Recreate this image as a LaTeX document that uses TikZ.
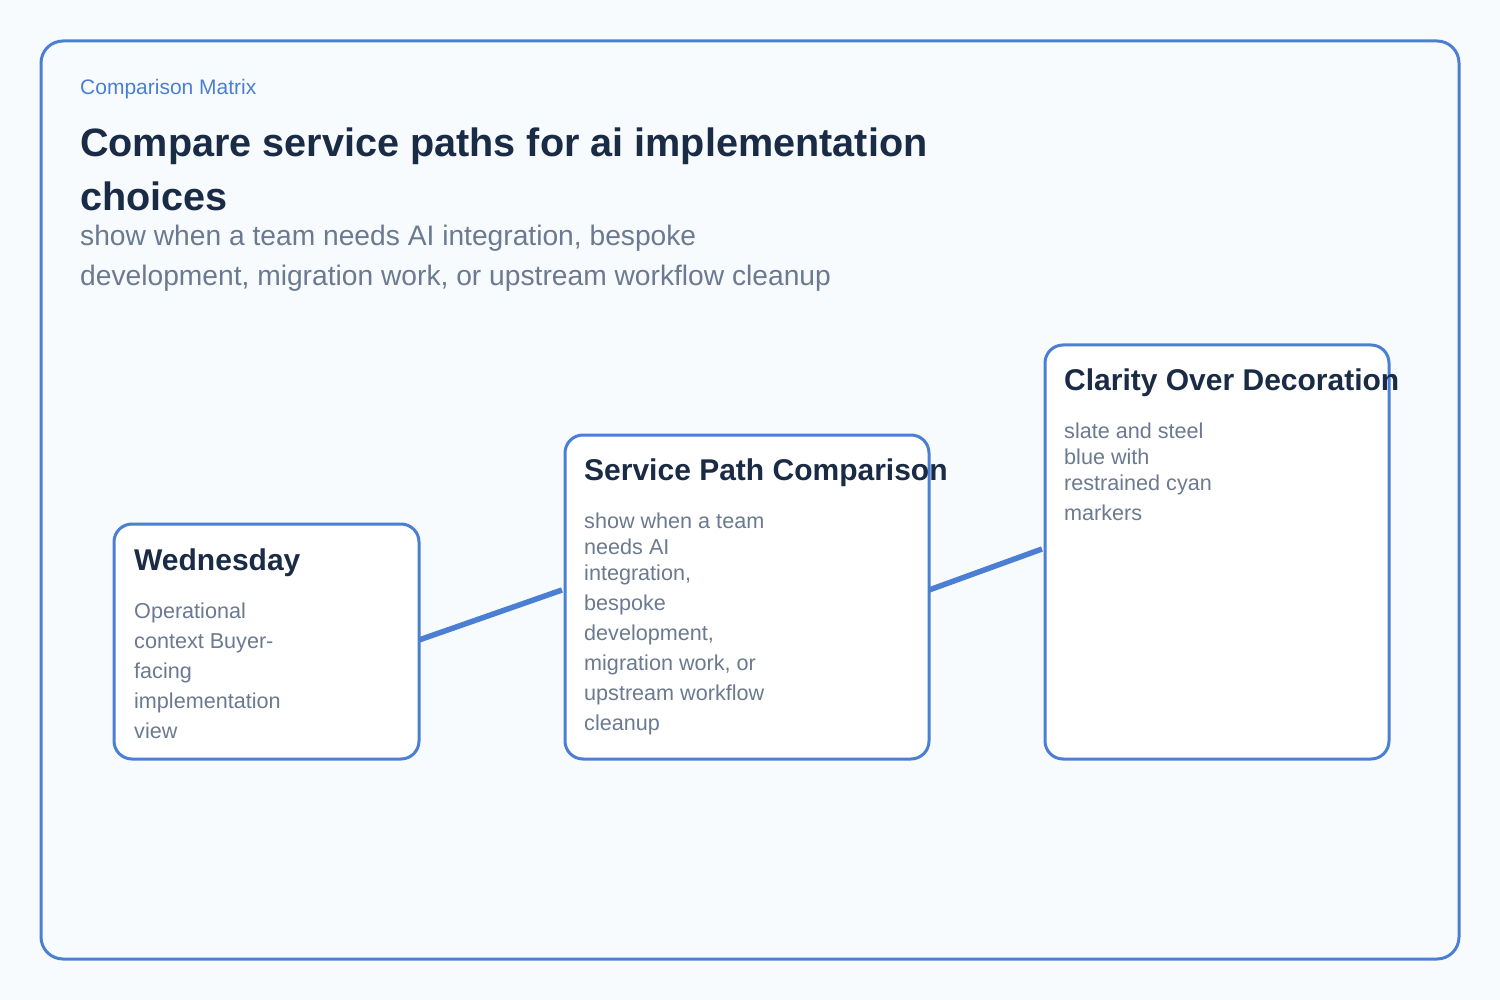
\documentclass[tikz,border=0pt]{standalone}
\usepackage{fontspec}
\setmainfont{Liberation Sans}
\definecolor{frame}{HTML}{4A7FD4}
\definecolor{bg}{HTML}{F8FBFE}
\definecolor{ink}{HTML}{1A2B45}
\definecolor{muted}{HTML}{6B7A90}
\begin{document}
\begin{tikzpicture}[x=1pt,y=-1pt,
  box/.style={draw=frame,line width=3pt,rounded corners=18pt,fill=white,inner sep=0,anchor=north west},
  ttl/.style={font=\bfseries\fontsize{30}{34}\selectfont,text=ink,anchor=base west,inner sep=0},
  bdy/.style={font=\fontsize{21.6}{26}\selectfont,text=muted,anchor=base west,inner sep=0},
  link/.style={draw=frame,line width=5.5pt}]
\useasboundingbox (0,0) rectangle (1500,1000);
\fill[bg] (0,0) rectangle (1500,1000);
\draw[frame,line width=3pt,rounded corners=22pt,fill=bg] (41,41) rectangle (1459,959);
\node[anchor=base west,inner sep=0,text=frame,font=\fontsize{21}{24}\selectfont] (hdr) at (80,95) {Comparison Matrix};
\node[anchor=base west,inner sep=0,text=ink,font=\bfseries\fontsize{39.6}{44}\selectfont] (t1) at (80,157) {Compare service paths for ai implementation};
\node[anchor=base west,inner sep=0,text=ink,font=\bfseries\fontsize{39.6}{44}\selectfont] (t2) at (80,211) {choices};
\node[anchor=base west,inner sep=0,text=muted,font=\fontsize{28.2}{32}\selectfont] (s1) at (80,246) {show when a team needs AI integration, bespoke};
\node[anchor=base west,inner sep=0,text=muted,font=\fontsize{28.2}{32}\selectfont] (s2) at (80,286) {development, migration work, or upstream workflow cleanup};
% boxes
\node[box,minimum width=305pt,minimum height=235pt] (wed) at (112.5,522.5) {};
\node[box,minimum width=364pt,minimum height=324pt] (svc) at (563.5,433.5) {};
\node[box,minimum width=344pt,minimum height=414pt] (cla) at (1043.5,343.5) {};
\coordinate (a1) at (419,640); \coordinate (a2) at (562,590);
\coordinate (b1) at (929,590); \coordinate (b2) at (1042,549);
\draw[link] (a1) -- (a2);
\draw[link] (b1) -- (b2);
% Wednesday
\node[ttl] (wt) at (134,570) {Wednesday};
\node[bdy] (w1) at (134,618) {Operational};
\node[bdy] (w2) at (134,648) {context Buyer-};
\node[bdy] (w3) at (134,678) {facing};
\node[bdy] (w4) at (134,708) {implementation};
\node[bdy] (w5) at (134,738) {view};
% Service
\node[ttl] (st) at (584,480) {Service Path Comparison};
\node[bdy] (v1) at (584,528) {show when a team};
\node[bdy] (v2) at (584,554) {needs AI};
\node[bdy] (v3) at (584,580) {integration,};
\node[bdy] (v4) at (584,610) {bespoke};
\node[bdy] (v5) at (584,640) {development,};
\node[bdy] (v6) at (584,670) {migration work, or};
\node[bdy] (v7) at (584,700) {upstream workflow};
\node[bdy] (v8) at (584,730) {cleanup};
% Clarity
\node[ttl] (ct) at (1064,390) {Clarity Over Decoration};
\node[bdy] (c1) at (1064,438) {slate and steel};
\node[bdy] (c2) at (1064,464) {blue with};
\node[bdy] (c3) at (1064,490) {restrained cyan};
\node[bdy] (c4) at (1064,520) {markers};
\end{tikzpicture}
\end{document}
